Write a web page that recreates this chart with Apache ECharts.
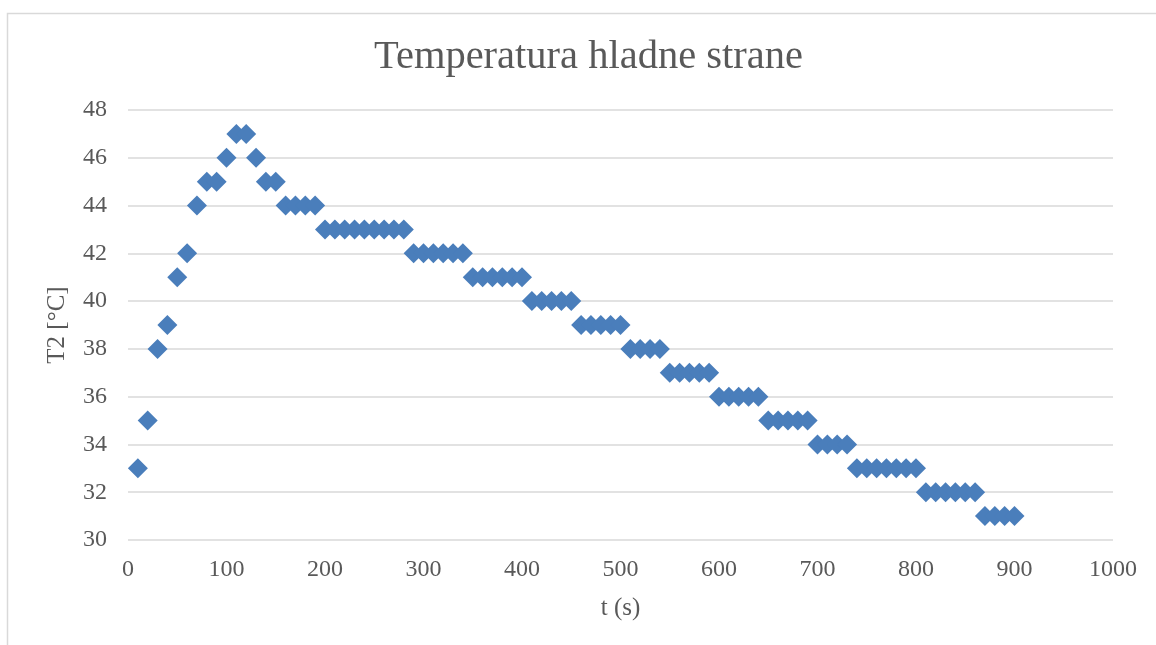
<!DOCTYPE html>
<html>
<head>
<meta charset="utf-8">
<script src="https://cdn.jsdelivr.net/npm/echarts@6/dist/echarts.min.js"></script>
<style>
  html, body { margin: 0; padding: 0; background: #fff; }
  #chart { width: 1156px; height: 645px; }
</style>
</head>
<body>
<div id="chart"></div>
<script>
const title = 'Temperatura hladne strane'
const xName = 't (s)'
const yName = 'T2 [°C]'

// time in seconds
const times = [
  10, 20, 30, 40, 50, 60, 70, 80, 90, 100,
  110, 120, 130, 140, 150, 160, 170, 180, 190, 200,
  210, 220, 230, 240, 250, 260, 270, 280, 290, 300,
  310, 320, 330, 340, 350, 360, 370, 380, 390, 400,
  410, 420, 430, 440, 450, 460, 470, 480, 490, 500,
  510, 520, 530, 540, 550, 560, 570, 580, 590, 600,
  610, 620, 630, 640, 650, 660, 670, 680, 690, 700,
  710, 720, 730, 740, 750, 760, 770, 780, 790, 800,
  810, 820, 830, 840, 850, 860, 870, 880, 890, 900
]
// cold side temperature
const temps = [
  33, 35, 38, 39, 41, 42, 44, 45, 45, 46,
  47, 47, 46, 45, 45, 44, 44, 44, 44, 43,
  43, 43, 43, 43, 43, 43, 43, 43, 42, 42,
  42, 42, 42, 42, 41, 41, 41, 41, 41, 41,
  40, 40, 40, 40, 40, 39, 39, 39, 39, 39,
  38, 38, 38, 38, 37, 37, 37, 37, 37, 36,
  36, 36, 36, 36, 35, 35, 35, 35, 35, 34,
  34, 34, 34, 33, 33, 33, 33, 33, 33, 33,
  32, 32, 32, 32, 32, 32, 31, 31, 31, 31
]

const font = 'Liberation Serif'
const textColor = '#595959'

const chart = echarts.init(document.getElementById('chart'))
chart.setOption({
  animation: false,
  backgroundColor: '#fff',
  textStyle: { fontFamily: font },
  title: {
    text: title,
    left: 369,
    top: 32,
    textStyle: { fontFamily: font, fontSize: 40.5, fontWeight: 'normal', color: textColor }
  },
  graphic: [{
    type: 'rect',
    shape: { x: 7.5, y: 13.5, width: 1160, height: 650 },
    style: { fill: 'none', stroke: '#d9d9d9', lineWidth: 1.5 },
    silent: true
  }],
  grid: { left: 128, right: 43, top: 110, bottom: 105 },
  xAxis: {
    type: 'value',
    min: 0,
    max: 1000,
    interval: 100,
    name: xName,
    nameLocation: 'middle',
    nameGap: 56,
    nameTextStyle: { fontFamily: font, fontSize: 25, color: textColor },
    axisLine: { show: false },
    axisTick: { show: false },
    splitLine: { show: false },
    axisLabel: {
      fontFamily: font, fontSize: 24, color: textColor, margin: 18,
      formatter: v => String(v)
    }
  },
  yAxis: {
    type: 'value',
    min: 30,
    max: 48,
    interval: 2,
    name: yName,
    nameLocation: 'middle',
    nameGap: 58,
    nameRotate: 90,
    nameTextStyle: { fontFamily: font, fontSize: 25, color: textColor },
    axisLine: { show: false },
    axisTick: { show: false },
    splitLine: { lineStyle: { color: '#d9d9d9', width: 1.5 } },
    axisLabel: { fontFamily: font, fontSize: 24, color: textColor, margin: 21 }
  },
  series: [{
    type: 'scatter',
    symbol: 'diamond',
    symbolSize: 20,
    itemStyle: { color: '#4a7ebb', opacity: 1 },
    data: times.map((t, i) => [t, temps[i]])
  }]
})
</script>
</body>
</html>
